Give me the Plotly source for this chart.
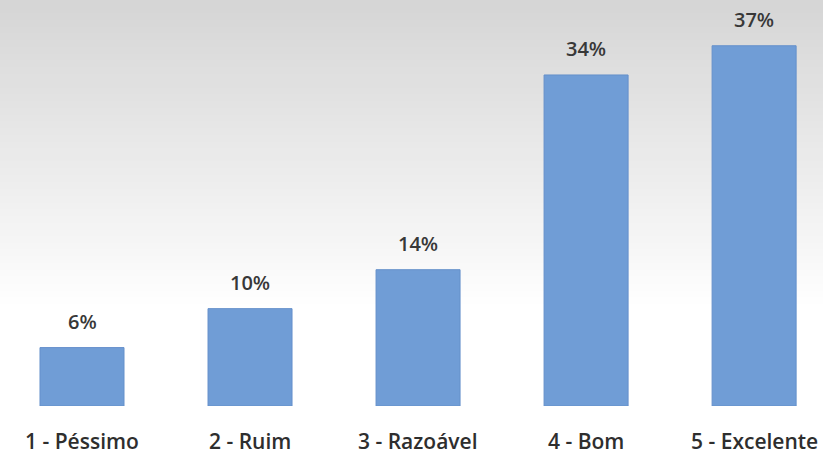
import plotly.graph_objects as go

categories = ["1 - Péssimo", "2 - Ruim", "3 - Razoável", "4 - Bom", "5 - Excelente"]
values = [6, 10, 14, 34, 37]
labels = ["6%", "10%", "14%", "34%", "37%"]

fig = go.Figure()
fig.add_trace(go.Bar(
    x=categories, y=values,
    marker=dict(color="#709dd6", line=dict(color="#6590cb", width=1)),
    width=0.5,
    hoverinfo="skip",
))

# background gradient bands (gray at top to white at bottom)
shapes = []
n = 60
for i in range(n):
    t = i / n
    y0 = 1 - t
    y1 = 1 - (i + 1) / n
    f = min(1.0, t / 0.75)
    c = int(214 + (255 - 214) * f)
    shapes.append(dict(type="rect", xref="paper", yref="paper",
                       x0=0, x1=1, y0=y1, y1=y0 + 0.002,
                       fillcolor=f"rgb({c},{c},{c})", line=dict(width=0),
                       layer="below"))

annotations = []
for c, v, l in zip(categories, values, labels):
    annotations.append(dict(x=c, y=v, text=l, showarrow=False, yanchor="bottom",
                            yshift=11, font=dict(family="Open Sans", size=20, weight=600,
                                                 color="#383838")))
for c in categories:
    annotations.append(dict(x=c, y=0, text=c, showarrow=False, yanchor="middle",
                            yshift=-35, font=dict(family="Open Sans", size=21, weight=600,
                                                  color="#2e2e2e")))

fig.update_layout(
    width=823, height=458,
    margin=dict(l=0, r=0, t=0, b=52),
    paper_bgcolor="white",
    plot_bgcolor="rgba(0,0,0,0)",
    shapes=shapes,
    annotations=annotations,
    showlegend=False,
    xaxis=dict(range=[-0.488, 4.41], showticklabels=False, showgrid=False,
               zeroline=False, showline=False, ticks=""),
    yaxis=dict(range=[0, 41.7], visible=False),
)

fig.write_html("out.html", config={"displayModeBar": False},
               post_script="document.body.style.margin='0';document.body.style.overflow='hidden';")
